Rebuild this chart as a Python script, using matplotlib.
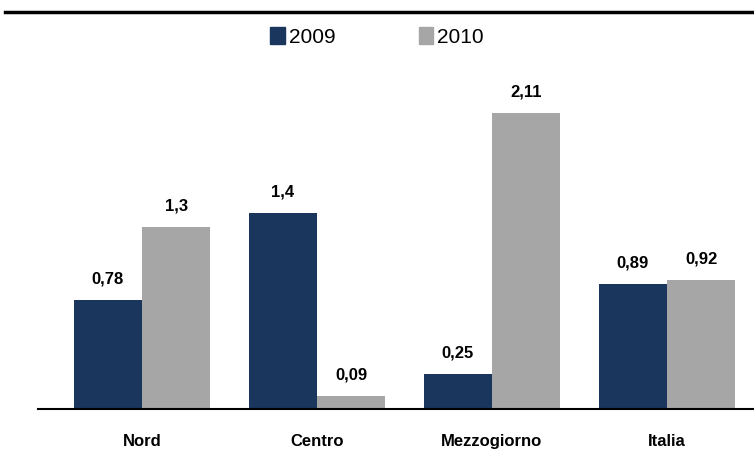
import matplotlib.pyplot as plt
import matplotlib.patches as mpatches
import numpy as np

plt.rcParams['font.family'] = ['Liberation Sans Narrow', 'Liberation Sans', 'DejaVu Sans']

categories = ['Nord', 'Centro', 'Mezzogiorno', 'Italia']
years = ['2009', '2010']
values_2009 = [0.78, 1.4, 0.25, 0.89]
values_2010 = [1.3, 0.09, 2.11, 0.92]
labels_2009 = ['0,78', '1,4', '0,25', '0,89']
labels_2010 = ['1,3', '0,09', '2,11', '0,92']

navy = '#1a365d'
grey = '#a6a6a6'

fig = plt.figure(figsize=[7.54, 4.57], dpi=100)
ax = fig.add_axes([0.0504, 0.105, 0.9496, 0.764])

x = np.arange(len(categories))
w = 0.39
ax.bar(x - w / 2, values_2009, width=w, color=navy, zorder=2)
ax.bar(x + w / 2, values_2010, width=w, color=grey, zorder=2)

for xi, v, lab in zip(x - w / 2, values_2009, labels_2009):
    ax.text(xi, v + 0.15, lab, ha='center', va='center', fontsize=12, fontweight='bold')
for xi, v, lab in zip(x + w / 2, values_2010, labels_2010):
    ax.text(xi, v + 0.15, lab, ha='center', va='center', fontsize=12, fontweight='bold')

ax.set_xlim(-0.594, 3.497)
ax.set_ylim(0, 2.49)
ax.set_xticks(x)
ax.set_xticklabels(categories, fontsize=12, fontweight='bold')
ax.tick_params(axis='x', length=0, pad=18)
ax.set_yticks([])
for s in ['top', 'right', 'left']:
    ax.spines[s].set_visible(False)
ax.spines['bottom'].set_linewidth(1.5)

# top rule
fig.add_artist(plt.Line2D([5 / 754, 1], [1 - 12 / 457, 1 - 12 / 457], color='black', lw=2.5))

handles = [mpatches.Patch(color=navy), mpatches.Patch(color=grey)]
fig.legend(handles, years, loc='center', bbox_to_anchor=(0.5, 1 - 37 / 457), ncol=2,
           frameon=False, fontsize=15, handlelength=0.7, handleheight=0.9,
           handletextpad=0.2, columnspacing=4.0)

plt.savefig('out.png', dpi=100)
